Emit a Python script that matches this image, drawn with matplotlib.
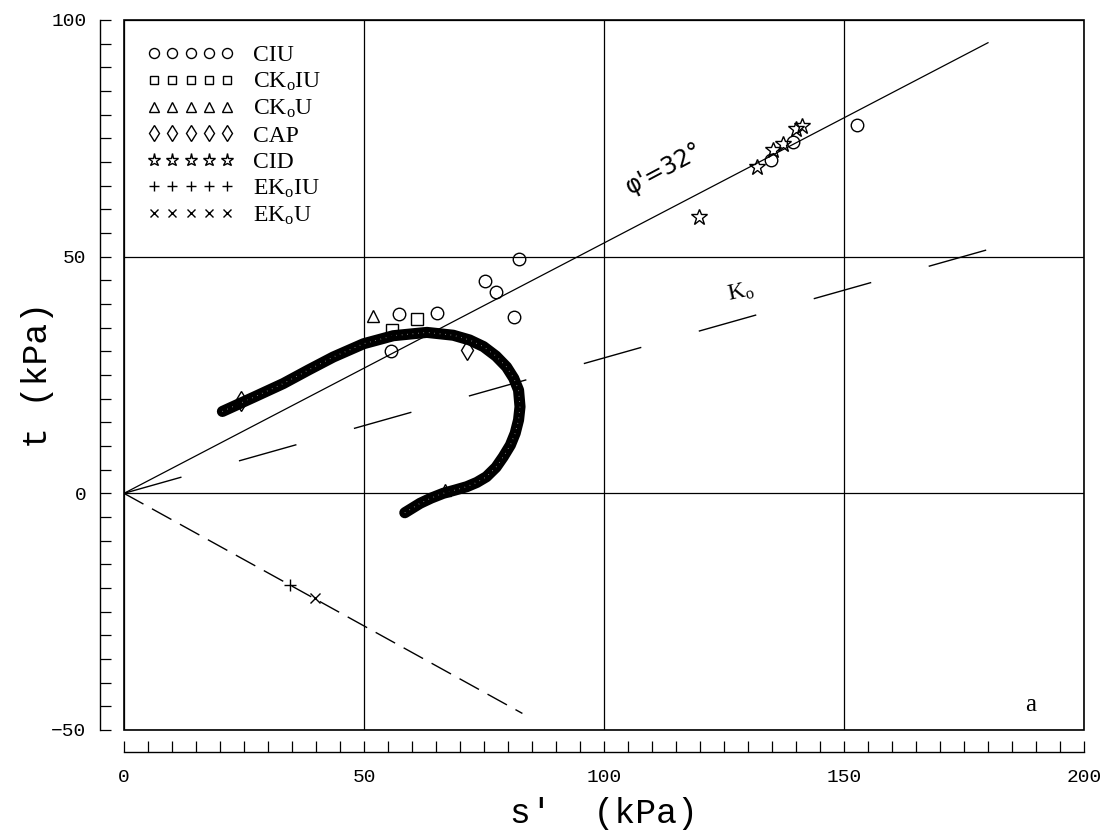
import matplotlib
matplotlib.use("Agg")
import matplotlib.pyplot as plt
from matplotlib.patches import Rectangle
from matplotlib.ticker import MultipleLocator

plt.rcParams['mathtext.fontset'] = 'custom'
plt.rcParams['mathtext.rm'] = 'Liberation Serif'
plt.rcParams['mathtext.it'] = 'Liberation Serif:italic'

# Reference lines (s', t in kPa)
phi_s = [0, 180]
phi_t = [0, 95.2]
k0_s = [0, 180]
k0_t = [0, 51.5]
ext_s = [0, 83]
ext_t = [0, -46.5]

# Test end points
ciu_s = [82.2, 75.2, 77.5, 81.3, 57.3, 65.3, 55.6, 134.7, 139.4, 152.8]
ciu_t = [49.5, 44.9, 42.6, 37.3, 37.9, 38.2, 30.1, 70.4, 74.3, 77.8]
ck0iu_s = [61.0, 55.8]
ck0iu_t = [36.8, 34.5]
ck0u_s = [51.9, 66.9]
ck0u_t = [37.5, 0.7]
cap_s = [71.4, 24.4]
cap_t = [30.3, 19.6]
cid_s = [119.8, 131.8, 135.3, 137.2, 140.1, 141.2]
cid_t = [58.4, 69.0, 72.5, 73.9, 76.9, 77.6]
ek0iu_s = [34.6]
ek0iu_t = [-19.3]
ek0u_s = [39.8]
ek0u_t = [-22.1]

# Continuous stress path
path_s = [20.5, 27.0, 33.2, 38.5, 43.6, 49.9, 56.1, 63.1, 68.6, 72.0, 74.9, 77.5,
          79.7, 81.2, 82.2, 82.5, 82.2, 81.5, 80.5, 79.0, 77.5, 75.5, 73.5, 71.4,
          69.0, 66.5, 64.0, 61.7, 58.5]
path_t = [17.3, 20.3, 23.2, 26.1, 28.8, 31.6, 33.3, 34.0, 33.4, 32.4, 31.0, 29.0,
          26.7, 24.3, 21.8, 18.3, 15.5, 12.7, 10.2, 7.7, 5.5, 3.5, 2.3, 1.4,
          0.7, 0.0, -1.0, -2.1, -4.1]

xticks = [0, 50, 100, 150, 200]
yticks = [-50, 0, 50, 100]

fig = plt.figure(figsize=(11.09, 8.34), dpi=100)
ax = fig.add_axes([124 / 1109, 104 / 834, 960 / 1109, 710 / 834])
ax.set_xlim(0, 200)
ax.set_ylim(-50, 100)

for side in ('top', 'right'):
    ax.spines[side].set_visible(False)
ax.spines['left'].set_position(('outward', 17))
ax.spines['bottom'].set_position(('outward', 16))
ax.spines['left'].set_linewidth(1.0)
ax.spines['bottom'].set_linewidth(1.0)
ax.add_patch(Rectangle((0, 0), 1, 1, transform=ax.transAxes, fill=False,
                       lw=1.2, ec='black', clip_on=False, zorder=5))

ax.set_xticks(xticks)
ax.set_yticks(yticks)
ax.xaxis.set_minor_locator(MultipleLocator(5))
ax.yaxis.set_minor_locator(MultipleLocator(5))
ax.tick_params(which='both', direction='in', length=8, width=0.9, color='black')
ax.tick_params(axis='x', pad=12)
ax.tick_params(axis='y', pad=10)
for lab in ax.get_xticklabels() + ax.get_yticklabels():
    lab.set_fontfamily('Liberation Mono')
    lab.set_fontsize(14)

ax.grid(True, which='major', color='black', lw=0.9)
ax.set_axisbelow(True)

ax.set_xlabel("s'  (kPa)", fontfamily='Liberation Mono', fontsize=25, labelpad=8)
ax.set_ylabel("t (kPa)", fontfamily='Liberation Mono', fontsize=25, labelpad=-2)

# Lines
ax.plot(phi_s, phi_t, color='black', lw=0.9)
ax.plot(k0_s, k0_t, color='black', lw=1.0, dashes=(43, 43))
ax.plot(ext_s, ext_t, color='black', lw=1.0, dashes=(16, 7))

# Stress path band
ax.plot(path_s, path_t, color='black', lw=8, solid_capstyle='round',
        solid_joinstyle='round', zorder=3)
ax.plot(path_s, path_t, color='white', lw=0.7, dashes=(0.6, 5), zorder=3.5, alpha=0.8)

mk = dict(linestyle='none', color='black', mfc='none', mew=1.0, zorder=4)
ax.plot(ciu_s, ciu_t, marker='o', ms=9, label='CIU', **mk)
ax.plot(ck0iu_s, ck0iu_t, marker='s', ms=8, label='CK$_\\mathrm{o}$IU', **mk)
ax.plot(ck0u_s, ck0u_t, marker='^', ms=9, label='CK$_\\mathrm{o}$U', **mk)
ax.plot(cap_s, cap_t, marker='d', ms=10, label='CAP', **mk)
ax.plot(cid_s, cid_t, marker='*', ms=12, label='CID', **mk)
ax.plot(ek0iu_s, ek0iu_t, marker='+', ms=9, label='EK$_\\mathrm{o}$IU', **mk)
ax.plot(ek0u_s, ek0u_t, marker='x', ms=7, label='EK$_\\mathrm{o}$U', **mk)

leg = ax.legend(loc='upper left', bbox_to_anchor=(0.024, 0.965), numpoints=5,
                frameon=False, prop={'family': 'Liberation Serif', 'size': 17},
                handlelength=3.7, handletextpad=0.8, labelspacing=0.2,
                borderpad=0, borderaxespad=0, markerscale=0.8)

ax.text(112.5, 68.5, "\u03c6'=32\u00b0", rotation=28, fontsize=17,
        fontfamily='DejaVu Sans', ha='center', va='center')
ax.text(128.5, 42.5, "K$_\\mathrm{o}$", rotation=12, fontsize=17,
        fontfamily='Liberation Serif', ha='center', va='center')
ax.text(188.8, -44.8, "a", fontsize=18, fontfamily='Liberation Serif',
        ha='center', va='center')

fig.savefig("out.png", dpi=100)
